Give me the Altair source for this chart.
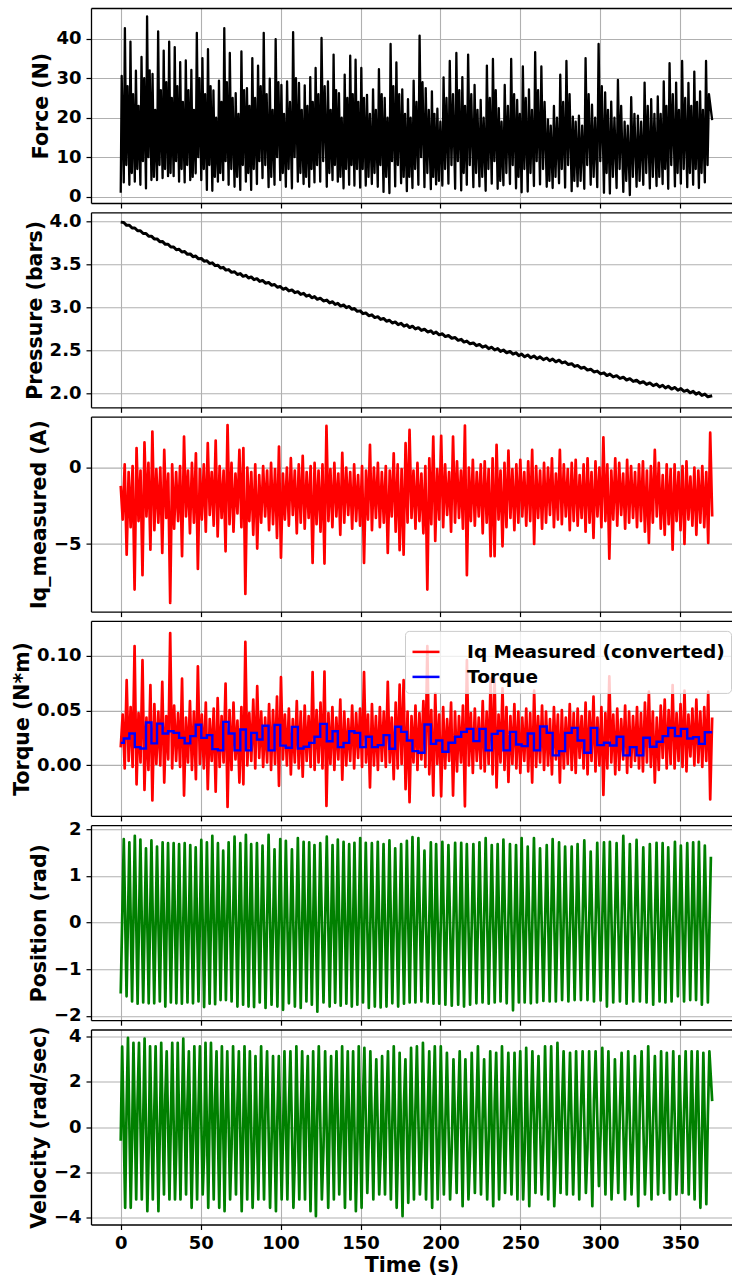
import altair as alt
import pandas as pd

FONT = "DejaVu Sans"

# ---------------- axes ----------------
time_ticks = [0, 50, 100, 150, 200, 250, 300, 350]
x_domain = [-18.6, 382.4]

# ---------------- cycle timing (position peaks, s) ----------------
cycle_t = [
    1.9, 5.4, 8.8, 12.3, 15.8, 19.2, 22.7, 26.2, 29.6, 33.1,
    36.5, 40.0, 43.5, 46.9, 50.4, 53.9, 57.3, 60.8, 64.1, 67.5,
    71.2, 74.8, 78.3, 81.6, 85.2, 88.7, 92.5, 96.2, 99.8, 103.3,
    107.1, 110.8, 114.4, 117.9, 121.2, 124.8, 128.9, 132.5, 135.8, 139.4,
    142.9, 146.2, 149.8, 153.3, 157.1, 160.8, 164.4, 168.1, 171.7, 175.4,
    179.0, 182.5, 186.2, 190.0, 194.0, 197.3, 201.2, 205.0, 209.2, 213.0,
    216.5, 220.6, 224.4, 228.3, 232.1, 235.8, 239.4, 243.5, 247.3, 250.8,
    254.6, 258.5, 262.3, 266.5, 270.2, 274.2, 278.0, 282.1, 285.8, 290.0,
    294.0, 298.1, 302.3, 306.0, 310.2, 314.4, 318.5, 322.7, 326.9, 331.0,
    335.2, 339.0, 342.5, 346.7, 350.4, 354.4, 358.1, 361.7, 365.4, 369.2,
]

# ---------------- Force (N) per cycle ----------------
force_trough = [
    3.6, 3.0, 3.8, 3.0, 2.1, 4.2, 4.2, 4.7, 5.2, 5.2,
    3.8, 3.6, 4.2, 5.9, 4.2, 1.7, 1.5, 3.8, 4.2, 3.0,
    2.5, 1.7, 3.8, 1.7, 3.2, 4.7, 2.4, 3.0, 4.2, 2.5,
    2.1, 3.8, 3.2, 2.5, 3.6, 3.8, 2.5, 4.2, 3.8, 2.1,
    3.0, 2.8, 2.3, 2.8, 3.2, 2.5, 1.2, 0.9, 2.6, 3.4,
    1.4, 2.2, 3.0, 2.4, 1.9, 3.1, 2.8, 3.3, 2.0, 1.6,
    3.0, 2.4, 2.6, 1.5, 3.3, 2.0, 2.9, 3.2, 2.1, 1.1,
    1.3, 2.7, 3.1, 2.5, 2.2, 3.4, 2.3, 1.4, 2.6, 2.0,
    3.0, 2.4, 1.0, 0.8, 2.2, 1.2, 0.4, 2.5, 3.0, 2.1,
    2.7, 3.2, 2.0, 2.6, 3.3, 2.4, 3.0, 2.2, 3.6,
]
force_peak = [
    42.7, 39.3, 31.9, 35.4, 45.7, 31.1, 41.9, 37.0, 39.3, 37.9,
    34.1, 34.5, 32.1, 41.5, 35.1, 37.4, 26.9, 29.4, 42.7, 36.4,
    26.2, 36.8, 27.5, 35.1, 33.2, 41.5, 29.9, 39.9, 28.3, 29.2,
    41.7, 28.8, 28.2, 30.3, 32.6, 40.2, 29.2, 36.0, 26.2, 30.9,
    35.7, 34.7, 32.6, 25.8, 27.2, 32.3, 25.0, 38.7, 34.0, 27.2,
    24.7, 29.4, 40.8, 27.5, 26.7, 22.3, 30.2, 34.4, 36.4, 30.3,
    36.0, 28.3, 24.5, 33.2, 34.9, 22.4, 28.3, 34.9, 24.5, 33.0,
    27.2, 36.6, 33.0, 19.6, 23.0, 30.9, 34.4, 20.3, 20.5, 35.1,
    23.3, 38.7, 26.4, 24.1, 29.6, 19.0, 25.2, 20.5, 28.9, 24.7,
    25.4, 29.2, 33.8, 28.9, 34.4, 28.8, 31.7, 26.7, 34.4,
]
force_dip = [
    8, 6, 7, 9, 10, 5, 8, 7, 6, 9,
    7, 8, 5, 10, 7, 8, 5, 6, 9, 7,
    5, 8, 6, 7, 9, 8, 5, 10, 6, 7,
    10, 6, 5, 7, 8, 9, 6, 8, 5, 7,
    8, 7, 7, 5, 6, 8, 5, 9, 8, 5,
    5, 7, 10, 6, 5, 4, 7, 8, 9, 6,
    8, 6, 5, 7, 9, 4, 6, 8, 5, 7,
    6, 9, 7, 4, 5, 7, 8, 4, 4, 8,
    5, 9, 6, 5, 7, 4, 5, 4, 6, 5,
    5, 7, 8, 6, 7, 6, 7, 6, 8,
]
force_shoulder = [
    28, 26, 23, 30, 32, 22, 27, 29, 25, 28,
    24, 27, 22, 30, 26, 28, 20, 24, 29, 25,
    21, 27, 23, 25, 28, 26, 22, 29, 21, 24,
    30, 22, 23, 24, 26, 28, 22, 27, 20, 25,
    26, 24, 25, 21, 22, 26, 20, 28, 26, 21,
    20, 24, 29, 22, 21, 19, 25, 26, 27, 23,
    26, 22, 20, 25, 27, 19, 23, 26, 21, 25,
    22, 27, 24, 18, 20, 24, 26, 19, 18, 26,
    20, 28, 22, 20, 23, 18, 21, 19, 23, 21,
    21, 23, 26, 22, 25, 23, 24, 22, 26,
]

# ---------------- Pressure (bars) per cycle ----------------
pressure_hi = [
    3.985, 3.953, 3.922, 3.890, 3.858, 3.827, 3.795, 3.764, 3.733, 3.702,
    3.675, 3.648, 3.621, 3.596, 3.569, 3.542, 3.517, 3.490, 3.465, 3.439,
    3.414, 3.393, 3.373, 3.354, 3.334, 3.313, 3.290, 3.266, 3.243, 3.224,
    3.203, 3.183, 3.163, 3.144, 3.126, 3.107, 3.085, 3.066, 3.048, 3.029,
    3.011, 2.987, 2.960, 2.936, 2.914, 2.893, 2.872, 2.851, 2.832, 2.815,
    2.798, 2.782, 2.765, 2.747, 2.729, 2.714, 2.694, 2.674, 2.650, 2.630,
    2.610, 2.588, 2.570, 2.554, 2.538, 2.522, 2.506, 2.489, 2.473, 2.459,
    2.448, 2.437, 2.426, 2.413, 2.401, 2.388, 2.369, 2.347, 2.327, 2.305,
    2.283, 2.261, 2.241, 2.226, 2.208, 2.190, 2.173, 2.155, 2.138, 2.124,
    2.110, 2.097, 2.085, 2.071, 2.058, 2.041, 2.026, 2.011, 1.995,
]
pressure_lo = [
    3.953, 3.921, 3.890, 3.858, 3.826, 3.795, 3.763, 3.732, 3.701, 3.670,
    3.643, 3.616, 3.589, 3.564, 3.537, 3.510, 3.485, 3.458, 3.433, 3.407,
    3.382, 3.361, 3.341, 3.322, 3.302, 3.281, 3.258, 3.234, 3.211, 3.192,
    3.171, 3.151, 3.131, 3.112, 3.094, 3.075, 3.053, 3.034, 3.016, 2.997,
    2.979, 2.955, 2.928, 2.904, 2.882, 2.861, 2.840, 2.819, 2.800, 2.783,
    2.766, 2.750, 2.733, 2.715, 2.697, 2.682, 2.662, 2.642, 2.618, 2.598,
    2.578, 2.556, 2.538, 2.522, 2.506, 2.490, 2.474, 2.457, 2.441, 2.427,
    2.416, 2.405, 2.394, 2.381, 2.369, 2.356, 2.337, 2.315, 2.295, 2.273,
    2.251, 2.229, 2.209, 2.194, 2.176, 2.158, 2.141, 2.123, 2.106, 2.092,
    2.078, 2.065, 2.053, 2.039, 2.026, 2.009, 1.994, 1.979, 1.963,
]

# ---------------- Iq measured (A): alternating upper / lower samples ----------------
iq_hi = [
    -1.2, 0.2, -0.3, 0.1, 1.27, -0.2, 1.64, 0.3, 2.35, -0.1,
    0.0, 1.15, -0.4, 0.2, -0.3, 0.1, 2.02, -0.2, 0.3, 0.93,
    -0.1, 0.2, 1.59, -0.3, 1.76, 0.1, -0.2, 2.78, 0.3, -0.4,
    1.15, 1.27, 0.0, -0.3, 0.2, -0.5, 0.1, -0.2, 0.3, -0.1,
    1.37, -0.4, 0.0, 0.61, -0.2, 0.2, 0.76, -0.3, 0.1, 0.3,
    -0.2, 0.2, 2.72, -0.1, 0.3, -0.4, 0.96, 0.0, -0.3, 0.2,
    -0.5, 0.1, -0.2, 1.48, 0.0, 0.3, -0.3, 0.1, -0.2, 0.93,
    0.2, -0.1, 1.59, 2.46, -0.2, 0.3, -0.4, 0.1, 0.6, 2.02,
    -0.1, 2.07, 0.2, -0.3, 2.02, 0.4, -0.2, 2.74, 0.0, 0.5,
    -0.3, 0.2, 0.4, -0.1, 0.6, 1.48, -0.2, 0.3, 1.11, -0.1,
    0.2, 0.5, -0.3, 0.4, 1.15, 0.1, -0.2, 0.3, 0.0, 0.6,
    -0.4, 1.15, 0.2, -0.1, 0.3, 0.5, -0.5, 0.2, 0.6, -0.3,
    0.4, 0.0, 1.98, 0.2, -0.2, 0.6, 0.3, -0.4, 0.5, 0.1,
    -0.3, 0.2, 0.4, -0.2, 0.1, 1.15, 0.3, -0.5, 0.2, -0.1,
    0.2, -0.3, 0.1, 0.4, -0.6, 0.0, -0.2, 0.1, -0.3, 2.28,
]
iq_lo = [
    -3.4, -5.7, -3.9, -7.98, -3.5, -7.04, -3.2, -5.37, -4.1, -3.6,
    -5.59, -3.3, -8.85, -4.0, -3.5, -5.8, -3.2, -4.3, -3.6, -6.63,
    -3.4, -4.2, -3.1, -3.8, -4.5, -3.3, -5.48, -3.7, -4.2, -3.0,
    -3.9, -8.26, -3.5, -4.4, -5.3, -3.6, -3.2, -4.1, -3.7, -4.6,
    -5.9, -3.4, -3.8, -3.1, -4.3, -3.6, -4.0, -3.3, -6.24, -3.7,
    -4.2, -6.28, -3.5, -3.9, -3.2, -4.4, -3.6, -3.1, -4.0, -3.5,
    -3.8, -6.24, -3.4, -4.1, -3.3, -3.9, -3.6, -5.59, -3.2, -4.2,
    -5.4, -5.7, -3.6, -3.3, -4.0, -3.5, -4.3, -7.98, -3.7, -4.8,
    -3.4, -3.9, -3.1, -4.2, -3.6, -3.3, -4.0, -7.04, -3.5, -3.8,
    -3.2, -4.3, -3.6, -5.8, -5.8, -3.4, -5.15, -3.9, -3.3, -4.1,
    -3.6, -3.2, -3.8, -3.5, -5.0, -3.3, -4.0, -3.6, -3.1, -3.9,
    -3.4, -3.7, -3.2, -4.1, -3.5, -3.8, -3.3, -4.2, -3.6, -4.6,
    -3.2, -3.9, -3.5, -5.96, -3.4, -3.8, -3.1, -4.0, -3.6, -3.3,
    -3.9, -3.5, -4.2, -4.93, -3.6, -3.2, -4.0, -4.4, -3.7, -5.37,
    -3.5, -4.1, -5.0, -3.4, -3.8, -4.4, -3.6, -3.9, -4.93, -3.2,
]
iq_to_torque = -0.0136  # N*m per A (conversion used for the red torque trace)

# ---------------- Torque command (N*m), one step per cycle ----------------
torque_steps = [
    0.0205, 0.0245, 0.029, 0.0166, 0.0154, 0.039, 0.020, 0.038, 0.029, 0.031,
    0.0296, 0.025, 0.020, 0.0266, 0.037, 0.025, 0.0275, 0.0148, 0.0136, 0.0396,
    0.029, 0.0136, 0.0326, 0.0136, 0.0296, 0.0236, 0.036, 0.0136, 0.0369, 0.018,
    0.016, 0.035, 0.0154, 0.017, 0.0205, 0.026, 0.0378, 0.022, 0.031, 0.0166,
    0.0205, 0.031, 0.0296, 0.0166, 0.026, 0.0166, 0.0184, 0.0275, 0.0151, 0.0351,
    0.0305, 0.0227, 0.0130, 0.0115, 0.0372, 0.0196, 0.0227, 0.0124, 0.0206, 0.0260,
    0.0305, 0.0332, 0.0221, 0.0332, 0.0136, 0.0287, 0.0314, 0.0136, 0.0305, 0.0190,
    0.0175, 0.0290, 0.0136, 0.0354, 0.0296, 0.0091, 0.0130, 0.0296, 0.0341, 0.0227,
    0.0115, 0.0341, 0.0184, 0.0206, 0.0181, 0.0260, 0.0091, 0.0166, 0.0091, 0.0251,
    0.0169, 0.0215, 0.0266, 0.0341, 0.0266, 0.0332, 0.0245, 0.0257, 0.0196, 0.0302,
]

# ---------------- Position (rad) per cycle ----------------
pos_peak = [
    1.79, 1.72, 1.86, 1.78, 1.59, 1.76, 1.63, 1.72, 1.70, 1.70,
    1.68, 1.70, 1.66, 1.61, 1.77, 1.72, 1.86, 1.70, 1.54, 1.72,
    1.84, 1.70, 1.88, 1.68, 1.70, 1.65, 1.88, 1.57, 1.79, 1.75,
    1.57, 1.81, 1.73, 1.72, 1.66, 1.70, 1.84, 1.66, 1.78, 1.73,
    1.68, 1.71, 1.81, 1.71, 1.70, 1.73, 1.68, 1.76, 1.59, 1.68,
    1.75, 1.83, 1.81, 1.54, 1.72, 1.68, 1.73, 1.66, 1.71, 1.71,
    1.68, 1.68, 1.72, 1.81, 1.66, 1.68, 1.78, 1.68, 1.66, 1.81,
    1.63, 1.81, 1.59, 1.66, 1.79, 1.72, 1.63, 1.63, 1.68, 1.76,
    1.52, 1.71, 1.72, 1.73, 1.70, 1.86, 1.68, 1.77, 1.61, 1.68,
    1.71, 1.70, 1.61, 1.73, 1.65, 1.70, 1.72, 1.73, 1.65, 1.41,
]
pos_trough = [
    -1.58, -1.69, -1.74, -1.71, -1.73, -1.73, -1.69, -1.80, -1.71, -1.73,
    -1.74, -1.71, -1.73, -1.69, -1.81, -1.74, -1.75, -1.66, -1.66, -1.69,
    -1.80, -1.76, -1.80, -1.81, -1.71, -1.83, -1.76, -1.80, -1.87, -1.73,
    -1.80, -1.83, -1.69, -1.76, -1.91, -1.71, -1.80, -1.72, -1.78, -1.74,
    -1.80, -1.76, -1.71, -1.83, -1.80, -1.82, -1.80, -1.73, -1.80, -1.74,
    -1.71, -1.71, -1.69, -1.71, -1.74, -1.74, -1.76, -1.78, -1.76, -1.80,
    -1.76, -1.73, -1.71, -1.74, -1.71, -1.69, -1.73, -1.88, -1.71, -1.71,
    -1.73, -1.71, -1.68, -1.69, -1.69, -1.66, -1.69, -1.66, -1.66, -1.66,
    -1.69, -1.67, -1.80, -1.71, -1.69, -1.74, -1.69, -1.69, -1.71, -1.76,
    -1.69, -1.71, -1.69, -1.58, -1.69, -1.66, -1.66, -1.76, -1.71,
]

# ---------------- Velocity (rad/sec) per cycle ----------------
vel_min = [
    -3.56, -3.56, -3.19, -3.19, -3.71, -3.19, -3.71, -2.97, -3.19, -3.19,
    -3.19, -2.97, -3.56, -3.19, -2.97, -3.56, -3.19, -3.56, -3.71, -3.19,
    -2.97, -3.71, -3.19, -3.56, -3.19, -3.19, -3.56, -3.71, -3.19, -3.19,
    -3.56, -3.19, -3.19, -3.71, -3.93, -3.19, -3.56, -3.19, -2.97, -3.56,
    -3.19, -3.71, -3.56, -2.90, -3.19, -2.97, -2.97, -3.19, -3.56, -3.93,
    -3.34, -3.19, -2.97, -3.19, -3.56, -3.19, -2.97, -3.19, -2.90, -3.49,
    -3.19, -2.90, -2.97, -3.19, -3.49, -3.19, -2.90, -2.97, -3.19, -3.19,
    -3.49, -2.90, -2.97, -3.19, -3.49, -2.90, -2.97, -2.97, -3.19, -2.90,
    -3.49, -2.60, -2.97, -3.19, -2.90, -3.19, -2.97, -3.49, -2.97, -3.19,
    -2.97, -2.90, -3.19, -2.97, -2.90, -2.97, -3.19, -3.56, -3.40,
]
vel_cross = [
    0.8, -0.5, 1.2, 0.3, -1.0, 0.6, -0.3, 1.4, 0.2, -0.8,
    0.5, 1.1, -0.6, 0.9, -1.2, 0.4, 1.3, -0.2, 0.7, -0.9,
    1.0, -0.4, 0.6, -1.1, 0.3, 1.2, -0.7, 0.5, -0.3, 0.9,
    -1.3, 0.4, 1.1, -0.5, 0.8, -0.9, 0.2, 1.3, -0.6, 0.7,
    0.3, -1.0, 1.2, -0.4, 0.6, -1.2, 0.9, 0.1, -0.7, 1.1,
    -0.3, 0.8, -1.1, 0.5, 1.3, -0.6, 0.2, -0.9, 1.0, 0.4,
    -1.2, 0.7, 0.3, -0.5, 1.1, -0.8, 0.6, -0.2, 1.2, -1.0,
    0.5, 0.9, -0.7, 0.2, -1.3, 1.0, 0.4, -0.4, 0.8, -0.9,
    1.2, -0.3, 0.6, -1.1, 0.9, 0.1, -0.6, 1.3, -0.8, 0.4,
    -0.5, 1.0, 0.3, -1.2, 0.7, -0.2, 1.1, -0.7, 0.5,
]
vel_max = [
    3.94, 3.72, 3.72, 3.91, 3.57, 3.57, 3.72, 3.35, 3.72, 3.72,
    3.91, 3.35, 3.57, 3.57, 3.72, 3.72, 3.35, 3.57, 3.35, 3.57,
    3.35, 3.57, 3.35, 3.13, 3.57, 3.35, 3.13, 3.13, 3.35, 3.35,
    3.57, 3.35, 3.13, 3.35, 3.57, 3.35, 3.13, 3.35, 3.57, 3.35,
    3.35, 3.57, 3.50, 3.35, 2.99, 3.13, 3.35, 3.57, 3.28, 2.99,
    3.50, 3.57, 3.72, 3.35, 3.57, 3.57, 3.28, 2.99, 3.35, 2.99,
    3.28, 3.57, 2.99, 3.35, 3.28, 3.57, 3.28, 3.28, 3.35, 3.50,
    3.35, 3.13, 3.57, 3.57, 3.72, 3.35, 3.28, 3.35, 3.35, 3.35,
    3.35, 3.50, 3.35, 2.99, 3.28, 3.35, 3.13, 3.35, 3.57, 3.13,
    3.35, 3.28, 3.35, 3.13, 3.35, 3.35, 3.35, 3.28, 3.35,
]

legend_labels = ["Iq Measured (converted)", "Torque"]
legend_colors = ["#ff0000", "#0000ff"]


# ---------------- assemble series ----------------
def phase(k, frac):
    return cycle_t[k] + (cycle_t[k + 1] - cycle_t[k]) * frac


n_cyc = len(cycle_t) - 1

force_t, force_v = [0.0, 0.6], [1.0, 30.6]
for k in range(min(n_cyc, len(force_peak))):
    force_t += [phase(k, 0.0), phase(k, 0.2), phase(k, 0.45), phase(k, 0.68)]
    force_v += [force_trough[k], force_peak[k], force_dip[k], force_shoulder[k]]
force_t.append(370.0)
force_v.append(19.4)

pres_t, pres_v = [0.0], [3.99]
for k in range(min(n_cyc, len(pressure_hi))):
    pres_t += [phase(k, 0.0), phase(k, 0.5)]
    pres_v += [pressure_hi[k], pressure_lo[k]]
pres_t.append(370.0)
pres_v.append(1.975)

iq_v = [x for pair in zip(iq_hi, iq_lo) for x in pair]
iq_t = [370.0 * i / (len(iq_v) - 1) for i in range(len(iq_v))]
tq_v = [iq_to_torque * x for x in iq_v]

step_t = [0.0] + cycle_t[: len(torque_steps) - 1] + [370.0]
step_v = torque_steps + [torque_steps[-1]]

pos_t, pos_v = [0.0], [-1.52]
for k in range(min(n_cyc, len(pos_trough))):
    pos_t += [phase(k, 0.0), phase(k, 0.5)]
    pos_v += [pos_peak[k], pos_trough[k]]
pos_t.append(cycle_t[-1])
pos_v.append(pos_peak[-1])

vel_t, vel_v = [0.0, 0.9], [-0.6, 3.55]
for k in range(min(n_cyc, len(vel_min))):
    vel_t += [phase(k, 0.25), phase(k, 0.5), phase(k, 0.75)]
    vel_v += [vel_min[k], vel_cross[k], vel_max[k]]
vel_t.append(370.0)
vel_v.append(1.15)

W, H = 641, 195
LW = 2.7


def xscale():
    return alt.Scale(domain=x_domain, nice=False, zero=False)


def yscale(dom):
    return alt.Scale(domain=dom, nice=False, zero=False)


def x_main(bottom):
    if bottom:
        ax = alt.Axis(values=time_ticks, title="Time (s)", format="d",
                      labelPadding=5, titlePadding=3)
    else:
        ax = alt.Axis(values=time_ticks, labels=False, title=None)
    return alt.X("t:Q", scale=xscale(), axis=ax)


def top_frame(df, dom):
    return alt.Chart(df).mark_line(opacity=0).encode(
        x=alt.X("t:Q", scale=xscale(),
                axis=alt.Axis(orient="top", labels=False, ticks=False, grid=False, title=None)),
        y=alt.Y("v:Q", scale=yscale(dom), axis=None),
    )


def panel(t, v, color, dom, ticks, fmt, title, bottom=False, lw=LW):
    df = pd.DataFrame({"t": t, "v": v})
    line = alt.Chart(df).mark_line(color=color, strokeWidth=lw, strokeJoin="round", clip=True).encode(
        x=x_main(bottom),
        y=alt.Y("v:Q", scale=yscale(dom), axis=alt.Axis(values=ticks, format=fmt, title=title)),
    )
    return alt.layer(line, top_frame(df, dom)).resolve_axis(
        x="independent", y="independent").properties(width=W, height=H)


p_force = panel(force_t, force_v, "black", [-1.6, 47.8], [0, 10, 20, 30, 40], "d", "Force (N)", lw=2.3)
p_pres = panel(pres_t, pres_v, "black", [1.841, 4.104], [2.0, 2.5, 3.0, 3.5, 4.0], ".1f", "Pressure (bars)", lw=3)
p_iq = panel(iq_t, iq_v, "#ff0000", [-9.42, 3.33], [-5, 0], "d", "Iq_measured (A)")
p_pos = panel(pos_t, pos_v, "#008000", [-2.092, 2.086], [-2, -1, 0, 1, 2], "d", "Position (rad)")
p_vel = panel(vel_t, vel_v, "#008000", [-4.296, 4.309], [-4, -2, 0, 2, 4], "d", "Velocity (rad/sec)", bottom=True)

# torque panel (two series + legend)
tq_dom = [-0.046, 0.1315]
tq_red = pd.DataFrame({"t": iq_t, "v": tq_v, "s": legend_labels[0]})
tq_blue = pd.DataFrame({"t": step_t, "v": step_v, "s": legend_labels[1]})
color_enc = alt.Color(
    "s:N",
    scale=alt.Scale(domain=legend_labels, range=legend_colors),
    legend=alt.Legend(
        title=None, orient="none", legendX=314, legendY=10, direction="vertical",
        fillColor="rgba(255,255,255,0.8)", strokeColor="#cccccc", cornerRadius=4,
        padding=6, symbolType="stroke", symbolSize=729, symbolStrokeWidth=2.5,
        labelFont=FONT, labelFontSize=18.5, labelFontWeight="bold", labelColor="black",
        labelOffset=26, rowPadding=0, labelLimit=500,
    ),
)
red = alt.Chart(tq_red).mark_line(strokeWidth=LW, strokeJoin="round", clip=True).encode(
    x=x_main(False),
    y=alt.Y("v:Q", scale=yscale(tq_dom),
            axis=alt.Axis(values=[0.0, 0.05, 0.10], format=".2f", title="Torque (N*m)")),
    color=color_enc,
)
blue = alt.Chart(tq_blue).mark_line(strokeWidth=2.4, interpolate="step-after", clip=True).encode(
    x=alt.X("t:Q", scale=xscale(), axis=None),
    y=alt.Y("v:Q", scale=yscale(tq_dom), axis=None),
    color=color_enc,
)
p_tq = alt.layer(red, blue, top_frame(tq_red, tq_dom)).resolve_axis(
    x="independent", y="independent").properties(width=W, height=H)

chart = (
    alt.vconcat(p_force, p_pres, p_iq, p_tq, p_pos, p_vel, spacing=9.3, bounds="flush")
    .resolve_scale(color="independent")
    .resolve_legend(color="independent")
    .properties(padding={"left": 12, "top": 8, "right": 0, "bottom": 0})
    .configure_view(strokeWidth=0)
    .configure_axis(
        labelFont=FONT, labelFontSize=18, labelFontWeight="bold", labelColor="black",
        titleFont=FONT, titleFontSize=20.5, titleFontWeight="bold", titleColor="black",
        tickColor="black", tickSize=5, tickWidth=1.2, domainColor="black", domainWidth=1.3,
        gridColor="#b0b0b0", gridWidth=1.1, labelPadding=5,
    )
    .configure_axisLeft(titlePadding=4)
)

chart.save("out.html", embed_options={"renderer": "svg", "actions": False})
